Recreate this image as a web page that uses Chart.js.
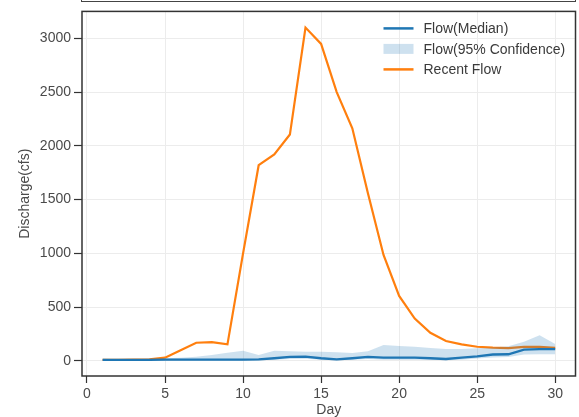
<!DOCTYPE html>
<html>
<head>
<meta charset="utf-8">
<script src="https://cdn.jsdelivr.net/npm/chart.js@4/dist/chart.umd.min.js"></script>
<style>
  html, body { margin: 0; padding: 0; background: #fff; }
  #wrap { position: relative; width: 579px; height: 417px; overflow: hidden; }
  #topbox { position: absolute; top: -1px; left: 81px; width: 493px; height: 2px;
            border: 1.5px solid #444; border-top: none; }
</style>
</head>
<body>
<div id="wrap">
  <canvas id="flowChart" width="579" height="417"></canvas>
  <div id="topbox"></div>
</div>
<script>
// data
const days = [1,2,3,4,5,6,7,8,9,10,11,12,13,14,15,16,17,18,19,20,21,22,23,24,25,26,27,28,29,30];
const medianFlow = [10,10,10,10,12,12,12,12,12,12,15,25,37,40,25,15,25,37,30,30,30,25,18,30,42,60,62,105,110,110];
const upperFlow  = [20,16,16,20,25,30,40,55,77,95,55,95,91,85,85,80,75,91,148,138,132,120,111,111,117,125,136,178,240,157];
const lowerFlow  = [4,4,4,4,5,5,5,5,5,5,6,10,18,20,10,6,10,18,12,12,12,10,6,12,22,32,36,60,62,62];
const recentFlow = [10,10,12,15,30,100,169,175,154,1000,1820,1920,2105,3100,2948,2500,2163,1560,985,605,394,262,185,154,132,123,120,130,130,122];
const xTicks = [0,5,10,15,20,25,30];
const yTicks = [0,500,1000,1500,2000,2500,3000];

const pts = arr => days.map((d, i) => ({ x: d, y: arr[i] }));

const blue = '#1f77b4';
const orange = '#ff7f0e';
const band = 'rgba(31,119,180,0.22)';

// frame around the plot area
const framePlugin = {
  id: 'frame',
  afterDatasetsDraw(chart) {
    const a = chart.chartArea, ctx = chart.ctx;
    ctx.save();
    ctx.strokeStyle = '#333';
    ctx.lineWidth = 1.5;
    ctx.strokeRect(a.left, a.top, a.right - a.left, a.bottom - a.top);
    ctx.restore();
  }
};

// legend drawn inside the plot, top right
const legendPlugin = {
  id: 'insideLegend',
  afterDraw(chart) {
    const a = chart.chartArea, ctx = chart.ctx;
    const x0 = a.right - 192, y0 = a.top + 17, step = 20.5;
    const items = [
      { label: 'Flow(Median)', kind: 'line', color: blue },
      { label: 'Flow(95% Confidence)', kind: 'box', color: band },
      { label: 'Recent Flow', kind: 'line', color: orange }
    ];
    ctx.save();
    ctx.font = '14px "Liberation Sans", Arial, sans-serif';
    ctx.textBaseline = 'middle';
    items.forEach((it, i) => {
      const y = y0 + i * step;
      if (it.kind === 'line') {
        ctx.strokeStyle = it.color;
        ctx.lineWidth = 2.5;
        ctx.beginPath();
        ctx.moveTo(x0, y);
        ctx.lineTo(x0 + 30, y);
        ctx.stroke();
      } else {
        ctx.fillStyle = it.color;
        ctx.fillRect(x0, y - 5, 30, 10);
      }
      ctx.fillStyle = '#3a3a3a';
      ctx.fillText(it.label, x0 + 40, y + 1);
    });
    ctx.restore();
  }
};

const tickFont = { family: '"Liberation Sans", Arial, sans-serif', size: 14 };

new Chart(document.getElementById('flowChart').getContext('2d'), {
  type: 'line',
  data: {
    datasets: [
      {
        label: 'Flow(95% Confidence) upper',
        data: pts(upperFlow),
        borderWidth: 0,
        pointRadius: 0,
        backgroundColor: band,
        fill: false
      },
      {
        label: 'Flow(95% Confidence) lower',
        data: pts(lowerFlow),
        borderWidth: 0,
        pointRadius: 0,
        backgroundColor: band,
        fill: '-1'
      },
      {
        label: 'Flow(Median)',
        data: pts(medianFlow),
        borderColor: blue,
        borderWidth: 2.3,
        pointRadius: 0,
        fill: false
      },
      {
        label: 'Recent Flow',
        data: pts(recentFlow),
        borderColor: orange,
        borderWidth: 2.2,
        pointRadius: 0,
        fill: false
      }
    ]
  },
  options: {
    responsive: false,
    animation: false,
    layout: { padding: { left: 0, top: 9, right: 3.5, bottom: 0 } },
    plugins: { legend: { display: false }, tooltip: { enabled: false } },
    scales: {
      x: {
        type: 'linear',
        min: -0.32,
        max: 31.3,
        afterBuildTicks: s => { s.ticks = xTicks.map(v => ({ value: v })); },
        afterFit: s => { s.height = 41; },
        border: { display: false },
        grid: { color: '#ececec', lineWidth: 1, tickColor: '#333', tickLength: 7, tickWidth: 1.2 },
        ticks: { font: tickFont, color: '#4a4a4a', padding: 3, maxRotation: 0, callback: v => String(v) },
        title: { display: true, text: 'Day', color: '#4a4a4a',
                 font: { family: tickFont.family, size: 14, lineHeight: 1 }, padding: 0 }
      },
      y: {
        min: -140,
        max: 3250,
        afterBuildTicks: s => { s.ticks = yTicks.map(v => ({ value: v })); },
        afterFit: s => { s.width = 82; },
        border: { display: false },
        grid: { color: '#ececec', lineWidth: 1, tickColor: '#333', tickLength: 8, tickWidth: 1.2 },
        ticks: { font: tickFont, color: '#4a4a4a', padding: 3, callback: v => String(v) },
        title: { display: true, text: 'Discharge(cfs)', color: '#4a4a4a',
                 font: { family: tickFont.family, size: 14, lineHeight: 1 }, padding: { top: 18, bottom: 0 } }
      }
    }
  },
  plugins: [framePlugin, legendPlugin]
});
</script>
</body>
</html>
